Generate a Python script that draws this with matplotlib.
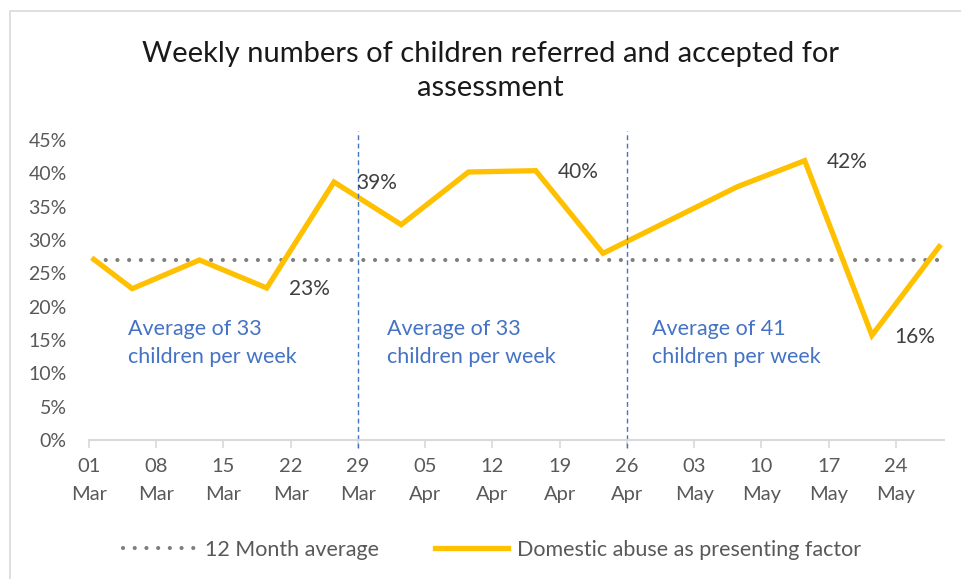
import matplotlib.pyplot as plt
import pandas as pd
from matplotlib.patches import Rectangle

# data
dates = pd.to_datetime([
    "2021-03-01", "2021-03-05", "2021-03-12", "2021-03-19", "2021-03-26",
    "2021-04-02", "2021-04-09", "2021-04-16", "2021-04-23", "2021-04-30",
    "2021-05-07", "2021-05-14", "2021-05-21", "2021-05-28",
])
domestic_abuse = [27.1, 22.7, 27.0, 22.8, 38.7, 32.3, 40.2, 40.4, 28.0, 33.0,
                  38.0, 41.9, 15.7, 29.0]
month_avg = [27.0] * len(dates)
labelled_dates = pd.to_datetime(["2021-03-19", "2021-03-26", "2021-04-16",
                                 "2021-05-14", "2021-05-21"])
tick_dates = pd.date_range("2021-03-01", "2021-05-24", freq="7D")
period_breaks = pd.to_datetime(["2021-03-29", "2021-04-26"])
period_notes = ["Average of 33\nchildren per week",
                "Average of 33\nchildren per week",
                "Average of 41\nchildren per week"]
title = "Weekly numbers of children referred and accepted for\nassessment"

FONT = ["Lato", "DejaVu Sans"]
GREY = "#595959"
BLUE = "#4472C4"
plt.rcParams["font.family"] = FONT

fig = plt.figure(figsize=(9.61, 5.79), dpi=100)
W, H = 961, 579
ax = fig.add_axes([89 / W, 1 - 440 / H, 855 / W, 300 / H])

# chart border (only top/left visible in the reference)
fig.patches.append(Rectangle((9.5 / W, -0.1), 1.2, 1 - 10.5 / H + 0.1,
                             transform=fig.transFigure, fill=False,
                             edgecolor="#D9D9D9", lw=1.2))

# Excel date axis puts each day in the middle of its slot
x = dates + pd.Timedelta(hours=12)

ax.plot(x, month_avg, color="#7F7F7F", lw=3.0, linestyle=(0, (0.01, 2.8)),
        dash_capstyle="round", label="12 Month average")
ax.plot(x, domestic_abuse, color="#FFC000", lw=3.8, solid_joinstyle="miter",
        label="Domestic abuse as presenting factor")

for d, v in zip(dates, domestic_abuse):
    if d in labelled_dates:
        ax.annotate(f"{v:.0f}%", (d + pd.Timedelta(hours=12), v),
                    xytext=(16, -1), textcoords="offset points",
                    ha="left", va="center", fontsize=15, color="#404040")

for b in period_breaks:
    ax.plot([b, b], [-1.2, 46.3], color=BLUE, lw=1.0,
            linestyle=(0, (3.5, 2.5)), clip_on=False)

for xf, note in zip([0.0456, 0.3485, 0.6585], period_notes):
    ax.text(xf, 0.322, note, transform=ax.transAxes, ha="left", va="center",
            fontsize=15.5, color=BLUE, linespacing=1.5)

ax.set_ylim(0, 45)
ax.set_xlim(pd.Timestamp("2021-03-01"), pd.Timestamp("2021-05-29"))
ax.set_yticks(range(0, 46, 5))
ax.set_yticklabels([f"{t}%" for t in range(0, 46, 5)])
ax.set_xticks(tick_dates)
ax.set_xticklabels([d.strftime("%d\n%b") for d in tick_dates], linespacing=1.75)

for s in ["top", "right", "left"]:
    ax.spines[s].set_visible(False)
ax.spines["bottom"].set_color("#D9D9D9")
ax.spines["bottom"].set_linewidth(1.5)
ax.tick_params(axis="y", length=0, pad=16, labelsize=14, labelcolor=GREY)
ax.tick_params(axis="x", direction="out", length=6, width=1.2, color="#D9D9D9",
               pad=7, labelsize=14.5, labelcolor=GREY)

fig.text(490 / W, 1 - 71 / H, title, ha="center", va="center", fontsize=21,
         color="#1A1A1A", linespacing=1.35)

fig.legend(loc="center", bbox_to_anchor=(492 / W, 1 - 550 / H), ncol=2,
           frameon=False, fontsize=15.5, labelcolor=GREY, handlelength=3.4,
           columnspacing=2.6, handletextpad=0.4)

fig.savefig("out.png", dpi=100)
